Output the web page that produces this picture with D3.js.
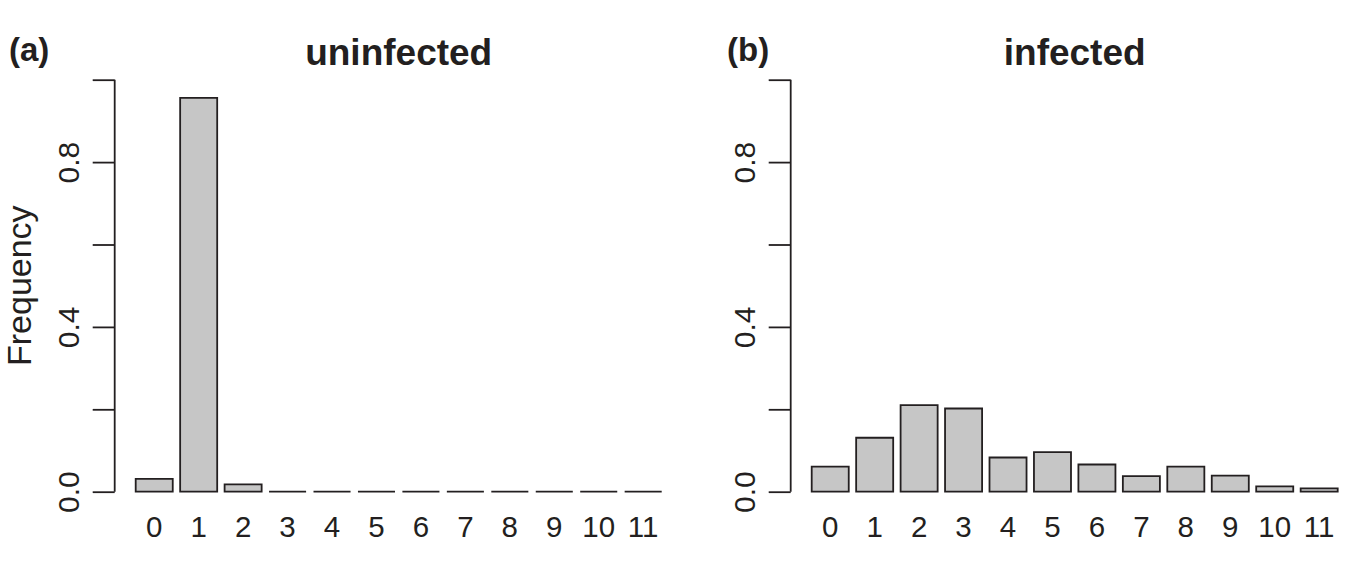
<!DOCTYPE html>
<html>
<head>
<meta charset="utf-8">
<script src="https://cdn.jsdelivr.net/npm/d3@7"></script>
<style>
  html, body { margin: 0; padding: 0; background: #fff; }
  svg { display: block; }
  text { font-family: "Liberation Sans", Arial, Helvetica, sans-serif; fill: #231f20; }
</style>
</head>
<body>
<svg id="chart" width="1360" height="564"></svg>
<script>
// ---- data ----
const categories = ["0","1","2","3","4","5","6","7","8","9","10","11"];
const uninfectedValues = [0.031, 0.956, 0.018, 0, 0, 0, 0, 0, 0, 0, 0, 0];
const infectedValues   = [0.061, 0.131, 0.210, 0.202, 0.083, 0.096, 0.066, 0.038, 0.061, 0.039, 0.013, 0.008];
const yTicks = [0, 0.2, 0.4, 0.6, 0.8, 1.0];
const yTickLabels = ["0.0", "", "0.4", "", "0.8", ""];
const panelTitles = ["uninfected", "infected"];
const panelLetters = ["(a)", "(b)"];

const svg = d3.select("#chart");
const ink = "#231f20";

const panels = [
  { ox: 0,   values: uninfectedValues, title: panelTitles[0], letter: panelLetters[0], letterX: 9,   ylab: true },
  { ox: 676, values: infectedValues,   title: panelTitles[1], letter: panelLetters[1], letterX: 727, ylab: false }
];

const y = d3.scaleLinear().domain([0, 1]).range([491.7, 79.7]);

panels.forEach(p => {
  const g = svg.append("g").attr("transform", `translate(${p.ox},0)`);
  const axisX = 114.7;
  const x = d3.scaleBand().domain(categories)
    .range([135.7, 661.7]).paddingInner(1/6).paddingOuter(0);

  // bars (as closed paths so zero-height bars still show as a line)
  g.selectAll("path.bar").data(p.values).enter().append("path")
    .attr("class", "bar")
    .attr("d", (d, i) => {
      const x0 = x(categories[i]), w = x.bandwidth();
      const y0 = y(0), y1 = y(d);
      return `M${x0},${y0}H${x0 + w}V${y1}H${x0}Z`;
    })
    .attr("fill", "#c6c6c6")
    .attr("stroke", ink)
    .attr("stroke-width", 1.8)
    .attr("stroke-linejoin", "miter");

  // y axis
  const yAxis = d3.axisLeft(y).tickValues(yTicks)
    .tickFormat((d, i) => yTickLabels[i]).tickSize(22).tickPadding(0);
  const ya = g.append("g").attr("transform", `translate(${axisX},0)`).call(yAxis);
  ya.select(".domain").attr("stroke", ink).attr("stroke-width", 1.8)
    .attr("d", `M0,${y(0)}V${y(1)}`);
  ya.selectAll(".tick line").attr("stroke", ink).attr("stroke-width", 1.8);
  ya.selectAll(".tick text")
    .attr("transform", d => `translate(${-35.7},0) rotate(-90)`)
    .attr("x", 0).attr("y", 0).attr("dy", 0)
    .attr("text-anchor", "middle")
    .style("font-size", "30px").attr("fill", ink);

  // x axis (labels only)
  const xAxis = d3.axisBottom(x).tickSize(0).tickPadding(0);
  const xa = g.append("g").attr("transform", `translate(0,537)`).call(xAxis);
  xa.select(".domain").remove();
  xa.selectAll(".tick text").attr("dy", 0).attr("y", 0)
    .style("font-size", "29.5px").attr("fill", ink);

  // title
  g.append("text")
    .attr("x", (axisX + 682.7) / 2).attr("y", 65)
    .attr("text-anchor", "middle")
    .style("font-size", "37px").style("font-weight", "bold")
    .text(p.title);

  if (p.ylab) {
    g.append("text")
      .attr("transform", `translate(31,${y(0.5)}) rotate(-90)`)
      .attr("text-anchor", "middle")
      .style("font-size", "34px")
      .text("Frequency");
  }
  svg.append("text")
    .attr("x", p.letterX).attr("y", 61)
    .style("font-size", "33px").style("font-weight", "bold")
    .text(p.letter);
});
</script>
</body>
</html>
